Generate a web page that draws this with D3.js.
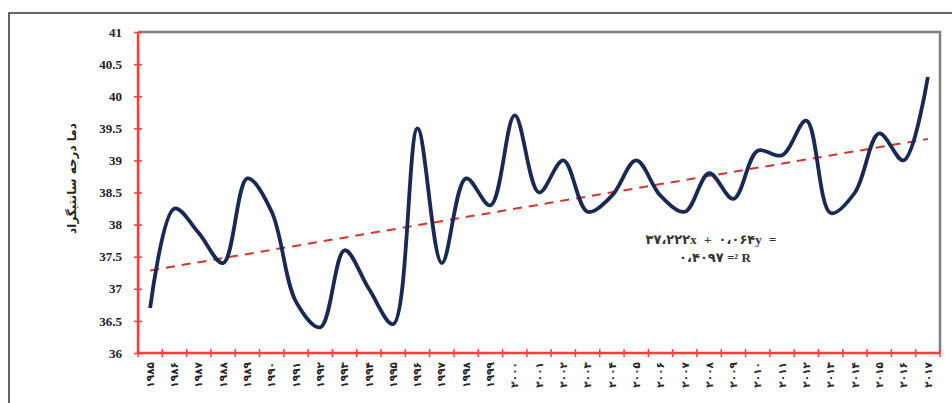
<!DOCTYPE html>
<html>
<head>
<meta charset="utf-8">
<script src="https://cdn.jsdelivr.net/npm/d3@7"></script>
<style>
  body { margin: 0; background: #fff; }
  svg { display: block; }
</style>
</head>
<body>
<div id="chart"></div>
<script>
// Data
const years = ["۱۹۸۵","۱۹۸۶","۱۹۸۷","۱۹۸۸","۱۹۸۹","۱۹۹۰","۱۹۹۱","۱۹۹۲","۱۹۹۳","۱۹۹۴","۱۹۹۵",
  "۱۹۹۶","۱۹۹۷","۱۹۹۸","۱۹۹۹","۲۰۰۰","۲۰۰۱","۲۰۰۲","۲۰۰۳","۲۰۰۴","۲۰۰۵","۲۰۰۶",
  "۲۰۰۷","۲۰۰۸","۲۰۰۹","۲۰۱۰","۲۰۱۱","۲۰۱۲","۲۰۱۳","۲۰۱۴","۲۰۱۵","۲۰۱۶","۲۰۱۷"];
const temps = [36.7, 38.25, 37.87, 37.4, 38.72, 38.2, 36.8, 36.4, 37.6, 37.0, 36.45,
  39.5, 37.4, 38.72, 38.3, 39.7, 38.5, 39.0, 38.2, 38.45, 39.0, 38.45,
  38.2, 38.8, 38.4, 39.15, 39.08, 39.62, 38.18, 38.5, 39.42, 39.0, 40.3];
const yTicks = [36, 36.5, 37, 37.5, 38, 38.5, 39, 39.5, 40, 40.5, 41];
const trendSlope = 0.064;
const trendIntercept = 37.222;
const eqLine1 = "۳۷،۲۲۲x + ۰،۰۶۴y =";
const eqLine2 = "۰،۴۰۹۷ =² R";
const yTitle = "دما درجه سانتیگراد";

const width = 952;
const height = 403;
const margin = { top: 32, right: 12, bottom: 50, left: 138 };
const plotRight = width - margin.right;
const plotBottom = height - margin.bottom;

const svg = d3.select("#chart")
  .append("svg")
  .attr("width", width)
  .attr("height", height);

// outer frame (runs off right/bottom like the cropped original)
svg.append("rect")
  .attr("x", 9).attr("y", 13)
  .attr("width", 960).attr("height", 420)
  .attr("fill", "#fff")
  .attr("stroke", "#333")
  .attr("stroke-width", 1.5);

const x = d3.scaleBand()
  .domain(years)
  .range([margin.left, plotRight])
  .padding(0);

const y = d3.scaleLinear()
  .domain([36, 41])
  .range([plotBottom, margin.top]);

const cx = d => x(d) + x.bandwidth() / 2;

// top and right plot border
svg.append("path")
  .attr("d", `M${margin.left},${margin.top}H${plotRight}V${plotBottom}`)
  .attr("fill", "none")
  .attr("stroke", "#7f7f7f")
  .attr("stroke-width", 2.5);

// trend line
const trendPts = [
  { yr: years[0], v: trendSlope * 1 + trendIntercept },
  { yr: years[years.length - 1], v: trendSlope * years.length + trendIntercept }
];
svg.append("path")
  .datum(trendPts)
  .attr("fill", "none")
  .attr("stroke", "#d8342c")
  .attr("stroke-width", 2)
  .attr("stroke-dasharray", "9,7")
  .attr("d", d3.line().x(d => cx(d.yr)).y(d => y(d.v)));

// temperature line
const series = years.map((yr, i) => ({ yr, v: temps[i] }));
svg.append("path")
  .datum(series)
  .attr("fill", "none")
  .attr("stroke", "#182857")
  .attr("stroke-width", 3.8)
  .attr("stroke-linejoin", "round")
  .attr("d", d3.line().curve(d3.curveCatmullRom.alpha(0.5)).x(d => cx(d.yr)).y(d => y(d.v)));

// y axis
const yAxis = d3.axisLeft(y)
  .tickValues(yTicks)
  .tickSize(0)
  .tickPadding(16)
  .tickFormat(d => String(d));

const gy = svg.append("g")
  .attr("transform", `translate(${margin.left},0)`)
  .call(yAxis);
gy.select(".domain").remove();
gy.selectAll(".tick line")
  .attr("x1", -4).attr("x2", 4)
  .attr("stroke", "#ff3b3b")
  .attr("stroke-width", 1.5);
gy.selectAll("text")
  .attr("fill", "#222")
  .style("font-family", "'Liberation Serif', serif")
  .style("font-weight", "bold")
  .style("font-size", "13px");

svg.append("line")
  .attr("x1", margin.left).attr("x2", margin.left)
  .attr("y1", margin.top).attr("y2", plotBottom)
  .attr("stroke", "#ff3b3b")
  .attr("stroke-width", 2.5);

// x axis
const xAxis = d3.axisBottom(x).tickSize(0).tickPadding(10);
const gx = svg.append("g")
  .attr("transform", `translate(0,${plotBottom})`)
  .call(xAxis);
gx.select(".domain").remove();
gx.selectAll("text")
  .attr("transform", "rotate(-90)")
  .attr("text-anchor", "end")
  .attr("x", -9)
  .attr("y", 0)
  .attr("dy", "0.35em")
  .attr("fill", "#222")
  .style("font-family", "'DejaVu Sans', sans-serif")
  .style("font-weight", "bold")
  .style("font-size", "10.5px")
  .style("letter-spacing", "4px");

// boundary tick marks
const bounds = years.map(d => x(d)).concat([plotRight]);
svg.append("g")
  .selectAll("line")
  .data(bounds)
  .enter()
  .append("line")
  .attr("x1", d => d).attr("x2", d => d)
  .attr("y1", plotBottom - 4).attr("y2", plotBottom + 4)
  .attr("stroke", "#ff3b3b")
  .attr("stroke-width", 1.5);

svg.append("line")
  .attr("x1", margin.left).attr("x2", plotRight)
  .attr("y1", plotBottom).attr("y2", plotBottom)
  .attr("stroke", "#ff3b3b")
  .attr("stroke-width", 2.5);

// y title
svg.append("text")
  .attr("transform", `translate(76,${(margin.top + plotBottom) / 2 - 14}) rotate(-90)`)
  .attr("text-anchor", "middle")
  .attr("direction", "rtl")
  .style("font-family", "'DejaVu Sans', sans-serif")
  .style("font-weight", "bold")
  .style("font-size", "12px")
  .attr("fill", "#222")
  .text(yTitle);

// trend equation
const eq = svg.append("text")
  .attr("text-anchor", "middle")
  .attr("direction", "ltr")
  .style("font-family", "'Liberation Serif', 'DejaVu Sans', serif")
  .style("font-weight", "bold")
  .style("font-size", "13px")
  .style("letter-spacing", "2px")
  .attr("fill", "#333");
eq.append("tspan").attr("x", 712).attr("y", 244).text(eqLine1);
eq.append("tspan").attr("x", 716).attr("y", 262).text(eqLine2);
</script>
</body>
</html>
